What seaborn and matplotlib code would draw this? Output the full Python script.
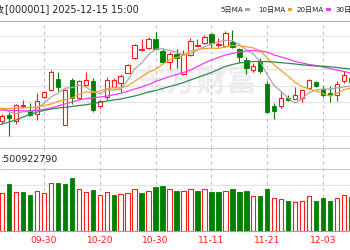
import numpy as np
import pandas as pd
import matplotlib
matplotlib.use("Agg")
import matplotlib.pyplot as plt
from matplotlib.patches import Rectangle
import seaborn as sns

# ---------------- data ----------------
dates = ["09-18", "09-19", "09-22", "09-23", "09-24", "09-25", "09-26", "09-29", "09-30",
         "10-09", "10-10", "10-13", "10-14", "10-15", "10-16", "10-17", "10-20", "10-21",
         "10-22", "10-23", "10-24", "10-27", "10-28", "10-29", "10-30", "10-31", "11-03",
         "11-04", "11-05", "11-06", "11-07", "11-10", "11-11", "11-12", "11-13", "11-14",
         "11-17", "11-18", "11-19", "11-20", "11-21", "11-24", "11-25", "11-26", "11-27",
         "11-28", "12-01", "12-02", "12-03", "12-04", "12-05", "12-08", "12-09"]

open_ = [3880, 3830,
         3812.5, 3828.75, 3812.5, 3851.25, 3840, 3830, 3872.5, 3890, 3918.75, 3802.5,
         3915, 3870, 3903.75, 3913.75, 3850, 3873.75, 3898.75, 3907.5, 3933.75, 3971.25,
         3991.25, 3995, 4017.5, 3988.75, 3960, 3980, 3930, 3977.5, 4001.25, 4007.5,
         4028.75, 4003.75, 4000, 4011.25, 3992.5, 3966.25, 3941.25, 3963.75, 3905, 3851.25,
         3851.25, 3871.25, 3868.75, 3871.25, 3895, 3911.25, 3893.75, 3882.5, 3877.5, 3913.75,
         3921.25]
high = [3895, 3842,
        3830, 3835, 3856.25, 3865, 3858.75, 3883.75, 3887.5, 3940, 3936.25, 3892.5,
        3921.25, 3916.25, 3935, 3920, 3866, 3922.5, 3921.25, 3931.25, 3955, 4006.25,
        4017.5, 4023.75, 4035, 3992.5, 3985, 3993.75, 3990, 4020, 4018.75, 4027.5,
        4032.5, 4020, 4037.5, 4041.25, 3996.25, 3972.5, 3957.5, 3970, 3913.75, 3857.5,
        3885, 3877.5, 3897.5, 3893.75, 3917.5, 3912.5, 3900, 3900, 3912.5, 3937.5,
        3925]
low = [3815, 3815,
       3805, 3775, 3805, 3845, 3825, 3815, 3871.25, 3887.5, 3888.75, 3802.5,
       3855, 3867.5, 3902.5, 3835, 3845, 3865, 3895, 3885, 3932.5, 3967.5,
       3987.5, 3992.5, 3991.25, 3957.5, 3942.5, 3945, 3927.5, 3975, 4000, 4005,
       3996.25, 3997.5, 3997.5, 3995, 3961.25, 3930, 3935, 3932.5, 3832.5, 3817.5,
       3845, 3862.5, 3867.5, 3860, 3892.5, 3897.5, 3872.5, 3860, 3862.5, 3907.5,
       3907.5]
close = [3832, 3820,
         3825, 3821.25, 3853.75, 3853.5, 3827.5, 3862.5, 3885, 3935, 3898.75, 3891.25,
         3870, 3912.5, 3916.25, 3840, 3863.75, 3916.25, 3915, 3925, 3953.75, 4002.5,
         3992.5, 4018.75, 3992.5, 3960, 3981.25, 3970, 3981.25, 4013.75, 4002.5, 4022.5,
         4006.75, 4005.5, 4033.75, 3997.5, 3973.75, 3945, 3950, 3937.5, 3835, 3838.75,
         3870, 3866.25, 3877.5, 3890, 3915, 3900, 3878.75, 3877.5, 3905, 3927.5,
         3910]

ma5 = [3850, 3846,
       3843.75, 3835.75, 3831, 3835.5, 3836.25, 3843.75, 3856.5, 3872.75, 3881.75, 3894.5,
       3896, 3901.5, 3897.75, 3886, 3880.5, 3889.75, 3890.25, 3892, 3914.75, 3942.5,
       3957.75, 3978.5, 3992, 3993.25, 3989, 3984.5, 3977, 3981.25, 3989.75, 3998,
       4005.25, 4010.25, 4014.25, 4013.25, 4003.5, 3991, 3980, 3960.75, 3928.25, 3901.25,
       3886.25, 3869.5, 3857.5, 3868.5, 3883.75, 3889.75, 3892.25, 3892.25, 3895.25, 3897.75,
       3899.75]
ma10 = [3842, 3843,
        3843.75, 3843.75, 3845, 3845, 3846.25, 3847.5, 3851.25, 3855, 3861.25, 3865.4,
        3869.9, 3879, 3885.25, 3883.9, 3887.5, 3892.9, 3895.9, 3894.9, 3900.4, 3911.5,
        3923.75, 3934.4, 3942, 3954, 3965.75, 3971.1, 3977.75, 3986.6, 3991.5, 3993.5,
        3994.9, 3993.6, 3997.7, 4001.5, 4000.7, 3998.2, 3995.1, 3987.5, 3970.7, 3952.35,
        3938.7, 3924.75, 3909.1, 3898.4, 3892.5, 3888, 3880.9, 3874.9, 3881.9, 3890.75,
        3894.75]
ma20 = [3839.5, 3840,
        3840, 3839.25, 3838.5, 3838, 3837.5, 3839.25, 3841.5, 3845, 3850, 3855,
        3860, 3865, 3868.25, 3870.5, 3872.5, 3874.5, 3878, 3881.75, 3887, 3892.5,
        3897.5, 3903.75, 3911.25, 3917.5, 3923.75, 3928.75, 3933.75, 3940, 3948.75, 3957.5,
        3965, 3971.25, 3977.5, 3981.25, 3985, 3987.5, 3988.75, 3987.5, 3985, 3977.5,
        3972.5, 3967.5, 3961.25, 3957.5, 3953.75, 3951.25, 3947.5, 3943.75, 3940, 3936.25,
        3932.5]
ma30 = [3795, 3800,
        3805, 3810, 3815, 3822.5, 3828.75, 3835, 3838.75, 3842.5, 3845, 3846.75,
        3848.75, 3851.25, 3853, 3856.25, 3859.25, 3862.5, 3865, 3867.5, 3871.25, 3875,
        3880, 3885, 3888.75, 3893.75, 3898.75, 3903, 3908.75, 3915, 3921.25, 3927.5,
        3933.75, 3941.25, 3948.75, 3953.75, 3957.5, 3960, 3961.25, 3961.25, 3960.75, 3960,
        3958.25, 3956.75, 3955, 3953, 3951.25, 3950, 3949.25, 3948.25, 3946.25, 3944.25,
        3942.5]

# volume, millions of lots
volume = [750, 580,
          561, 700, 585, 576, 535, 600, 561, 711, 711, 700,
          795, 630, 585, 606, 535, 585, 535, 550, 561, 630,
          561, 600, 660, 675, 630, 600, 600, 621, 595, 630,
          576, 576, 600, 621, 585, 591, 520, 520, 621, 495,
          471, 445, 426, 441, 520, 445, 486, 445, 495, 535,
          510]
# 1 = close up vs previous close (red, hollow), 0 = down (green)
vol_up = [0, 0,
          1, 0, 1, 0, 0, 1, 1, 1, 0, 0,
          0, 1, 1, 0, 1, 1, 0, 1, 1, 1,
          0, 1, 0, 0, 1, 0, 1, 1, 0, 1,
          0, 0, 1, 0, 0, 0, 1, 0, 0, 1,
          1, 0, 1, 1, 1, 0, 0, 0, 1, 1,
          0]

tick_labels = ["09-18", "09-30", "10-20", "10-30", "11-11", "11-21", "12-03"]
title_left = "上证指数"
title_right = "[000001] 2025-12-15 15:00"
legend_items = ["5日MA", "10日MA", "20日MA", "30日MA"]
vol_label = "成交量"
vol_value = ":500922790"
watermark = "东方财富"

# ---------------- styling ----------------
RED = "#ff1a1a"
GREEN = "#007f00"
MA_COLORS = ["#a8a8a8", "#f2a22b", "#f23cf2", "#2f8a4e"]
GRID = "#e3e3e3"

sns.set_theme(style="white")
plt.rcParams["font.family"] = ["DejaVu Sans", "Noto Sans CJK SC"]

W, H = 350, 250
fig = plt.figure(figsize=(3.5, 2.5), dpi=100)
fig.patch.set_facecolor("white")

def fy(py):  # pixel-from-top -> figure fraction
    return 1 - py / H

top_px, mid_px, bot_px = 20.7, 148.3, 230.7
ax_p = fig.add_axes([0, fy(mid_px), 1, (mid_px - top_px) / H])
ax_v = fig.add_axes([0, fy(bot_px), 1, (bot_px - mid_px) / H], sharex=ax_p)

df = pd.DataFrame({"date": dates, "open": open_, "high": high, "low": low,
                   "close": close, "ma5": ma5, "ma10": ma10, "ma20": ma20,
                   "ma30": ma30, "volume": volume, "vol_up": vol_up})
df["x"] = np.arange(len(df))
up = df["close"] >= df["open"]

# x range: first visible candle sits 2.15 px from the left edge, 6.975 px per day
step = 6.975
x0 = dates.index("09-22") - 2.15 / step
ax_p.set_xlim(x0, x0 + W / step)

# price y range
ax_p.set_ylim(3744.25, 4063.25)
grid_levels = [3775, 3817, 3859, 3901, 3942, 3984, 4026]
for g in grid_levels:
    ax_p.axhline(g, color=GRID, lw=0.8, zorder=0)

# watermark
ax_p.text(0.56, 0.52, watermark, transform=ax_p.transAxes, ha="center", va="center",
          fontsize=22, fontweight="bold", color="#ececec", zorder=0.5,
          family=["Noto Sans CJK SC"])

# candles
bw = 0.64
body_lo = np.minimum(df["open"], df["close"])
body_h = np.maximum(np.abs(df["close"] - df["open"]), 0.4)
wick_colors = np.where(up, RED, GREEN)
ax_p.vlines(df["x"], df["low"], df["high"], colors=wick_colors, lw=0.8, zorder=2)
ax_p.bar(df["x"][up], body_h[up], bottom=body_lo[up], width=bw,
         facecolor="white", edgecolor=RED, linewidth=0.8, zorder=3)
ax_p.bar(df["x"][~up], body_h[~up], bottom=body_lo[~up], width=bw,
         facecolor=GREEN, edgecolor=GREEN, linewidth=0.6, zorder=3)

# moving averages via seaborn
for col, c in zip(["ma5", "ma10", "ma20", "ma30"], MA_COLORS):
    sns.lineplot(data=df, x="x", y=col, ax=ax_p, color=c, linewidth=0.9,
                 sort=False, zorder=4, legend=False)

# volume
vmax = (bot_px - mid_px) * 15.0
ax_v.set_ylim(0, vmax)
for g in [210, 450, 685.5]:
    ax_v.axhline(g, color=GRID, lw=0.8, zorder=0)
ax_v.axhline((bot_px - 169.3) * 15.0, color="#c9c9c9", lw=0.8, zorder=0)
vu = df["vol_up"] == 1
ax_v.bar(df["x"][vu], df["volume"][vu], width=bw, facecolor="white",
         edgecolor=RED, linewidth=0.8, zorder=3)
ax_v.bar(df["x"][~vu], df["volume"][~vu], width=bw, facecolor=GREEN,
         edgecolor=GREEN, linewidth=0.6, zorder=3)

# dashed vertical separators at the labelled dates
tick_pos = [dates.index(t) for t in tick_labels]
for ax in (ax_p, ax_v):
    for tp in tick_pos:
        ax.axvline(tp, color="#c4c4c4", lw=0.8, ls=(0, (3, 3)), zorder=1)
    for s in ax.spines.values():
        s.set_visible(False)
    ax.set_yticks([])
    ax.set_ylabel("")
    ax.set_xlabel("")
ax_p.spines["top"].set_visible(True)
ax_p.spines["top"].set_color("#b4b4b4")
ax_p.spines["top"].set_linewidth(0.8)
ax_v.spines["top"].set_visible(True)
ax_v.spines["top"].set_color("#c4c4c4")
ax_v.spines["top"].set_linewidth(0.8)
ax_v.spines["bottom"].set_visible(True)
ax_v.spines["bottom"].set_color("#a0a0a0")
ax_v.spines["bottom"].set_linewidth(0.8)

ax_p.tick_params(axis="x", which="both", bottom=False, labelbottom=False)
ax_v.set_xticks(tick_pos)
ax_v.set_xticklabels(tick_labels)
ax_v.tick_params(axis="x", length=0, pad=3.5, labelsize=6.6, labelcolor=RED)
ax_v.set_xlim(x0, x0 + W / step)

# header texts
fig.text(5 / W, fy(9.5), title_left, ha="right", va="center", fontsize=7,
         color="#222222", family=["Noto Sans CJK SC"])
fig.text(5 / W, fy(9.5), title_right, ha="left", va="center", fontsize=6.9,
         color="#222222")

# legend: name followed by a small colour chip, at the reference's positions
fig.canvas.draw()
renderer = fig.canvas.get_renderer()
leg_text_x = [220, 258, 296.5, 335.5]
for lx, name, c in zip(leg_text_x, legend_items, MA_COLORS):
    t = fig.text(lx / W, fy(9.5), name, ha="left", va="center", fontsize=5.1,
                 color="#222222", family=["DejaVu Sans", "Noto Sans CJK SC"])
    bb = t.get_window_extent(renderer=renderer)
    chip_x = bb.x1 + 2.5
    fig.patches.append(Rectangle((chip_x / W, fy(11)), 4.5 / W, 3 / H,
                                 transform=fig.transFigure, facecolor=c,
                                 edgecolor="none"))

fig.text(0.5 / W, fy(160), vol_value, ha="left", va="center", fontsize=6.8,
         color="#222222")
fig.text(0.5 / W, fy(160), vol_label, ha="right", va="center", fontsize=6.8,
         color="#222222", family=["Noto Sans CJK SC"])

fig.savefig("out.png", dpi=100, facecolor="white")
